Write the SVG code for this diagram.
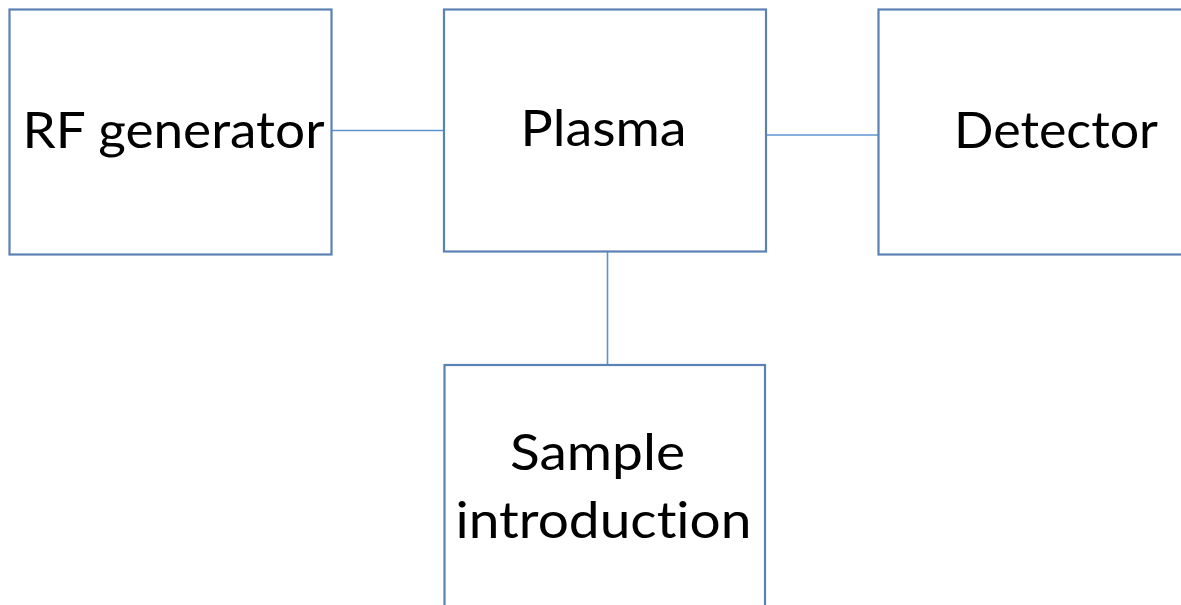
<svg xmlns="http://www.w3.org/2000/svg" width="1181" height="605" viewBox="0 0 1181 605">
  <style>
    .box { fill: #ffffff; stroke: #5a82b4; stroke-width: 2.2; }
    .link { stroke: #5b93cf; stroke-width: 1.6; fill: none; }
    .label { font-family: Lato, "Open Sans", sans-serif; font-size: 50px; fill: #000000; text-anchor: middle; font-variant-ligatures: none; }
  </style>
  <rect width="1181" height="605" fill="#ffffff"/>

  <g id="connectors">
    <line class="link" x1="332" y1="130.5" x2="444" y2="130.5"/>
    <line class="link" x1="763" y1="135" x2="878" y2="135"/>
    <line class="link" x1="607.5" y1="252" x2="607.5" y2="365"/>
  </g>

  <g id="rf-generator">
    <rect class="box" x="9.5" y="9.5" width="322" height="245"/>
    <text class="label" x="173.5" y="148" textLength="302" lengthAdjust="spacingAndGlyphs">RF generator</text>
  </g>

  <g id="plasma">
    <rect class="box" x="444" y="9.5" width="322" height="242"/>
    <text class="label" x="603.5" y="146" textLength="166" lengthAdjust="spacingAndGlyphs">Plasma</text>
  </g>

  <g id="detector">
    <rect class="box" x="878.5" y="9.5" width="320" height="245"/>
    <text class="label" x="1056" y="148" textLength="204" lengthAdjust="spacingAndGlyphs">Detector</text>
  </g>

  <g id="sample-introduction">
    <rect class="box" x="444.5" y="365" width="320.5" height="260"/>
    <text class="label" x="597.5" y="470" textLength="175" lengthAdjust="spacingAndGlyphs">Sample</text>
    <text class="label" x="603.5" y="538" textLength="296" lengthAdjust="spacingAndGlyphs">introduction</text>
  </g>
</svg>
